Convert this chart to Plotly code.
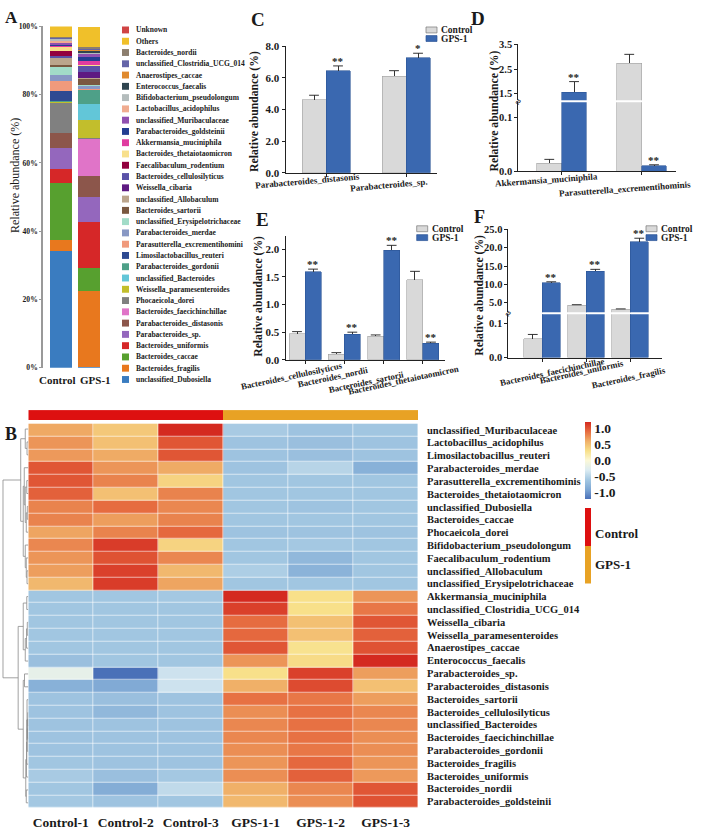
import plotly.graph_objects as go

W, H = 708, 834
def X(px): return px / W
def Y(py): return 1 - py / H
def dx(a, b): return [X(a), X(b)]
def dy(top, bottom): return [Y(bottom), Y(top)]

FONT = "Liberation Serif"
TXT = "#1a1a1a"

# ---------------- Panel A data (legend order, top -> bottom) ----------------
taxa_A = ["Unknown", "Others", "Bacteroides_nordii", "unclassified_Clostridia_UCG_014",
          "Anaerostipes_caccae", "Enterococcus_faecalis", "Bifidobacterium_pseudolongum",
          "Lactobacillus_acidophilus", "unclassified_Muribaculaceae", "Parabacteroides_goldsteinii",
          "Akkermansia_muciniphila", "Bacteroides_thetaiotaomicron", "Faecalibaculum_rodentium",
          "Bacteroides_cellulosilyticus", "Weissella_cibaria", "unclassified_Allobaculum",
          "Bacteroides_sartorii", "unclassified_Erysipelotrichaceae", "Parabacteroides_merdae",
          "Parasutterella_excrementihomini", "Limosilactobacillus_reuteri", "Parabacteroides_gordonii",
          "unclassified_Bacteroides", "Weissella_paramesenteroides", "Phocaeicola_dorei",
          "Bacteroides_faecichinchillae", "Parabacteroides_distasonis", "Parabacteroides_sp.",
          "Bacteroides_uniformis", "Bacteroides_caccae", "Bacteroides_fragilis", "unclassified_Dubosiella"]
groups_A = ["Control", "GPS-1"]
control_A = [0.0, 3.2, 0.3, 0.2, 0.1, 0.1, 0.6, 0.6, 0.5, 0.3, 0.1, 1.2, 1.6, 0.4, 0.05, 2.2,
             0.5, 2.5, 1.7, 2.9, 3.0, 0.2, 0.1, 0.05, 8.9, 0.1, 4.3, 6.3, 3.9, 16.9, 3.0, 34.3]
gps_A = [0.0, 6.0, 0.4, 0.4, 0.3, 0.5, 0.3, 0.1, 0.9, 1.2, 1.2, 0.1, 0.2, 1.6, 1.9, 0.2,
         1.9, 0.1, 1.0, 0.1, 0.2, 3.9, 4.8, 5.3, 0.2, 10.8, 6.4, 7.1, 13.6, 6.8, 22.1, 0.3]
colors_A = ["#d04444", "#f0c02a", "#8c7e6e", "#6464a8", "#e08a2e", "#2f4550", "#b4bcbc",
            "#f0ac90", "#9050b0", "#233e92", "#e03ca0", "#f8e08c", "#92003e", "#5a52a8",
            "#5e1a82", "#bba58c", "#7a5840", "#a2dcc8", "#8898c4", "#f09a7c", "#2e4a92",
            "#4ea088", "#62c6d8", "#c2be2c", "#808080", "#e074c8", "#8c564b", "#9467bd",
            "#d62728", "#57a02f", "#e8781e", "#3a7cc0"]
ticks_A = [0, 20, 40, 60, 80, 100]

# ---------------- Panels C-F data ----------------
taxa_C = ["Parabacteroides_distasonis", "Parabacteroides_sp."]
ctrl_C, ctrl_C_err = [4.6, 6.1], [0.3, 0.35]
gps_C, gps_C_err = [6.45, 7.25], [0.3, 0.3]
sig_C = ["**", "*"]

taxa_D = ["Akkermansia_muciniphila", "Parasutterella_excrementihominis"]
ctrl_D, ctrl_D_err = [0.015, 2.75], [0.007, 0.35]
gps_D, gps_D_err = [1.58, 0.01], [0.42, 0.002]
sig_D = ["**", "**"]
ticks_D_low, ticks_D_up = [0.0, 0.1], [1.5, 2.5, 3.5]

taxa_E = ["Bacteroides_cellulosilyticus", "Bacteroides_nordii", "Bacteroides_sartorii",
          "Bacteroides_thetaiotaomicron"]
ctrl_E, ctrl_E_err = [0.47, 0.10, 0.43, 1.45], [0.04, 0.03, 0.02, 0.15]
gps_E, gps_E_err = [1.59, 0.46, 1.98, 0.30], [0.05, 0.04, 0.09, 0.02]
sig_E = ["**", "**", "**", "**"]

taxa_F = ["Bacteroides_faecichinchillae", "Bacteroides_uniformis", "Bacteroides_fragilis"]
ctrl_F, ctrl_F_err = [0.055, 4.3, 3.2], [0.012, 0.15, 0.1]
gps_F, gps_F_err = [10.4, 13.6, 21.7], [0.3, 0.5, 0.9]
sig_F = ["**", "**", "**"]
ticks_F_low, ticks_F_up = [0.0, 0.1], [5.0, 10.0, 15.0, 20.0, 25.0]

# ---------------- Heatmap data ----------------
heat_cols = ["Control-1", "Control-2", "Control-3", "GPS-1-1", "GPS-1-2", "GPS-1-3"]
heat_groups = [0, 0, 0, 1, 1, 1]
heat_rows = ["unclassified_Muribaculaceae", "Lactobacillus_acidophilus", "Limosilactobacillus_reuteri",
             "Parabacteroides_merdae", "Parasutterella_excrementihominis", "Bacteroides_thetaiotaomicron",
             "unclassified_Dubosiella", "Bacteroides_caccae", "Phocaeicola_dorei",
             "Bifidobacterium_pseudolongum", "Faecalibaculum_rodentium", "unclassified_Allobaculum",
             "unclassified_Erysipelotrichaceae", "Akkermansia_muciniphila", "unclassified_Clostridia_UCG_014",
             "Weissella_cibaria", "Weissella_paramesenteroides", "Anaerostipes_caccae",
             "Enterococcus_faecalis", "Parabacteroides_sp.", "Parabacteroides_distasonis",
             "Bacteroides_sartorii", "Bacteroides_cellulosilyticus", "unclassified_Bacteroides",
             "Bacteroides_faecichinchillae", "Parabacteroides_gordonii", "Bacteroides_fragilis",
             "Bacteroides_uniformis", "Bacteroides_nordii", "Parabacteroides_goldsteinii"]
heat_z = [
    [0.63, 0.45, 1.20, -0.58, -0.65, -0.62],
    [0.72, 0.50, 1.00, -0.65, -0.68, -0.65],
    [0.70, 0.62, 1.00, -0.65, -0.68, -0.65],
    [1.00, 0.72, 0.62, -0.65, -0.50, -0.82],
    [1.00, 0.80, 0.38, -0.62, -0.62, -0.62],
    [0.95, 0.50, 0.80, -0.62, -0.62, -0.62],
    [0.80, 0.90, 0.78, -0.62, -0.65, -0.62],
    [0.80, 0.68, 0.80, -0.62, -0.62, -0.62],
    [0.65, 0.80, 0.92, -0.65, -0.65, -0.65],
    [0.78, 1.12, 0.38, -0.62, -0.60, -0.62],
    [0.72, 1.02, 0.78, -0.62, -0.75, -0.62],
    [0.68, 1.10, 0.55, -0.55, -0.80, -0.62],
    [0.55, 1.12, 0.65, -0.62, -0.62, -0.62],
    [-0.62, -0.62, -0.60, 1.20, 0.30, 0.72],
    [-0.62, -0.62, -0.62, 1.10, 0.30, 0.85],
    [-0.62, -0.62, -0.62, 0.90, 0.50, 1.00],
    [-0.62, -0.62, -0.62, 0.92, 0.50, 0.95],
    [-0.62, -0.62, -0.62, 1.00, 0.28, 1.02],
    [-0.68, -0.62, -0.62, 0.72, 0.33, 1.20],
    [-0.20, -1.20, -0.38, 0.30, 1.10, 0.68],
    [-0.82, -0.88, -0.38, 0.60, 1.05, 0.50],
    [-0.65, -0.68, -0.65, 0.88, 0.85, 0.68],
    [-0.65, -0.75, -0.65, 0.75, 0.88, 0.78],
    [-0.65, -0.65, -0.65, 0.78, 0.88, 0.78],
    [-0.65, -0.65, -0.65, 0.78, 0.88, 0.75],
    [-0.65, -0.65, -0.65, 0.75, 0.85, 0.75],
    [-0.62, -0.65, -0.65, 0.72, 0.92, 0.72],
    [-0.58, -0.68, -0.60, 0.75, 0.95, 0.70],
    [-0.62, -0.85, -0.45, 0.60, 0.78, 1.00],
    [-0.60, -0.65, -0.62, 0.55, 0.75, 1.02],
]
# dendrogram linkage: (child_a, child_b, height); ids >= 30 refer to earlier merges
dendro_links = [
    (1, 2, 0.05), (0, 30, 0.12), (4, 5, 0.06), (6, 7, 0.04), (33, 8, 0.08), (32, 34, 0.12),
    (3, 35, 0.16), (11, 12, 0.05), (10, 37, 0.08), (9, 38, 0.12), (36, 39, 0.20), (31, 40, 0.30),
    (13, 14, 0.06), (15, 16, 0.04), (43, 17, 0.07), (44, 18, 0.12), (42, 45, 0.20), (19, 20, 0.15),
    (22, 23, 0.02), (48, 24, 0.03), (49, 25, 0.04), (21, 50, 0.05), (51, 26, 0.06), (52, 27, 0.07),
    (28, 29, 0.08), (53, 54, 0.10), (47, 55, 0.20), (46, 56, 0.40), (41, 57, 1.00),
]

C_CTRL, C_GPS = "#d9d9d9", "#3a68b0"
HEAT_CS = [[0.0, "#4a70b8"], [0.125, "#7ea8d4"], [0.25, "#a4c8e2"], [0.375, "#dcecf2"],
           [0.5, "#fbf8d8"], [0.625, "#f8e08a"], [0.75, "#f0b068"], [0.875, "#e66c40"],
           [1.0, "#d42a20"]]
GROUP_CS = [[0, "#dd1010"], [1, "#e8a224"]]

fig = go.Figure()
shapes, annos = [], []

def bfont(size, bold=True, color=TXT):
    d = dict(family=FONT, size=size, color=color)
    if bold:
        d["weight"] = "bold"
    return d

def text(t, x, y, size, bold=True, angle=0, xanchor="center", yanchor="middle", **kw):
    annos.append(dict(text=t, x=X(x), y=Y(y), xref="paper", yref="paper", showarrow=False,
                      xanchor=xanchor, yanchor=yanchor, textangle=angle, font=bfont(size, bold), **kw))

# ---------------- Panel A ----------------
for name, c, g, col in reversed(list(zip(taxa_A, control_A, gps_A, colors_A))):
    fig.add_trace(go.Bar(x=groups_A, y=[c, g], name=name, marker=dict(color=col, line=dict(width=0)),
                         width=0.786, xaxis="x", yaxis="y", showlegend=False))
for k, (name, col) in enumerate(zip(taxa_A, colors_A)):
    yc = 24.3 + k * 11.44
    shapes.append(dict(type="rect", xref="paper", yref="paper", x0=X(122), x1=X(129),
                       y0=Y(yc + 3.5), y1=Y(yc - 3.5), fillcolor=col, line=dict(width=0)))
    text(name, 134, yc, 7.5, xanchor="left")
for g, sh in zip(groups_A, (-4, 6)):
    annos.append(dict(text=g, x=g, y=Y(379.5), xref="x", yref="paper", xshift=sh, showarrow=False,
                      xanchor="center", yanchor="middle", font=bfont(11)))

# ---------------- grouped bar helper ----------------
def grouped(ctrl, ctrl_err, gps, gps_err, xa, yas, bw):
    n = len(ctrl)
    xc = [i - bw / 2 for i in range(n)]
    xg = [i + bw / 2 for i in range(n)]
    for ya in yas:
        for xs, vals, errs, col, lc in ((xc, ctrl, ctrl_err, C_CTRL, "#a0a0a0"),
                                        (xg, gps, gps_err, C_GPS, "#2c5596")):
            fig.add_trace(go.Bar(x=xs, y=vals, width=bw, xaxis=xa, yaxis=ya, showlegend=False,
                                 marker=dict(color=col, line=dict(width=0.6, color=lc)),
                                 error_y=dict(type="data", array=errs, arrayminus=[0] * n,
                                              symmetric=False, width=0, thickness=1, color="#333")))
            fig.add_trace(go.Scatter(x=xs, y=[v + e for v, e in zip(vals, errs)], mode="markers",
                                     xaxis=xa, yaxis=ya, showlegend=False, cliponaxis=True,
                                     marker=dict(symbol="line-ew", size=7,
                                                 line=dict(width=1, color="#333"))))

def stars(sigs, gps, gps_err, xa, bw, ya_low, ya_up=None, low_max=None):
    for i, (s, v, e) in enumerate(zip(sigs, gps, gps_err)):
        top = v + e
        ya = ya_low if (ya_up is None or top <= low_max) else ya_up
        annos.append(dict(text=s, x=i + bw / 2, y=top, xref=xa, yref=ya, showarrow=False,
                          xanchor="center", yanchor="bottom", yshift=-3, font=bfont(11)))

def ytick_text(vals, ya, axis_px, size=10.5):
    for v in vals:
        annos.append(dict(text=f"{v:.1f}", x=X(axis_px - 4), y=v, xref="paper", yref=ya,
                          showarrow=False, xanchor="right", yanchor="middle", font=bfont(size)))

D_AX, F_AX = 518.3, 508.0
BW_C, BW_D, BW_E, BW_F = 0.30, 0.31, 0.407, 0.42
grouped(ctrl_C, ctrl_C_err, gps_C, gps_C_err, "x2", ["y2"], BW_C)
stars(sig_C, gps_C, gps_C_err, "x2", BW_C, "y2")
D_LOW, F_LOW = 0.1273, 0.1257
grouped(ctrl_D, ctrl_D_err, gps_D, gps_D_err, "x3", ["y3", "y4"], BW_D)
stars(sig_D, gps_D, gps_D_err, "x3", BW_D, "y3", "y4", D_LOW)
ytick_text(ticks_D_low, "y3", D_AX)
ytick_text(ticks_D_up, "y4", D_AX)
grouped(ctrl_E, ctrl_E_err, gps_E, gps_E_err, "x5", ["y5"], BW_E)
stars(sig_E, gps_E, gps_E_err, "x5", BW_E, "y5")
grouped(ctrl_F, ctrl_F_err, gps_F, gps_F_err, "x6", ["y6", "y7"], BW_F)
stars(sig_F, gps_F, gps_F_err, "x6", BW_F, "y6", "y7", F_LOW)
ytick_text(ticks_F_low, "y6", F_AX)
ytick_text(ticks_F_up, "y7", F_AX)

# category labels (slanted) for C-F
def cat_labels(taxa, xa, ys, shifts, angle, size):
    for i, (t, yy, sh) in enumerate(zip(taxa, ys, shifts)):
        annos.append(dict(text=t, x=i, y=Y(yy), xref=xa, yref="paper", showarrow=False,
                          xanchor="center", yanchor="middle", xshift=sh, textangle=angle,
                          font=bfont(size)))
cat_labels(taxa_C, "x2", [177.7, 181.5], [-19, -17], -5, 9)
cat_labels(taxa_D, "x3", [176.7, 186], [-15, -17], -4, 9)
cat_labels(taxa_E, "x5", [375.5, 376, 381, 379], [-13, -11, -17, -19], -12, 8.8)
cat_labels(taxa_F, "x6", [371, 371, 377], [10, -5, -2], -12, 8.8)

# legends for bar panels
def bar_legend(x0, y1, y2):
    for yc, lab, col, lc in ((y1, "Control", C_CTRL, "#777"), (y2, "GPS-1", C_GPS, "#2c5596")):
        shapes.append(dict(type="rect", xref="paper", yref="paper", x0=X(x0), x1=X(x0 + 11),
                           y0=Y(yc + 3), y1=Y(yc - 3), fillcolor=col, line=dict(width=0.7, color=lc)))
        text(lab, x0 + 13, yc, 9.5, xanchor="left")
bar_legend(426, 24.3, 33)
bar_legend(416.7, 226, 235)
bar_legend(646, 226, 235)

# y titles and panel letters
for (xx, yy) in ((255, 107.5), (494, 106), (259, 295), (480, 294)):
    text("Relative abundance (%)", xx, yy, 11.7, angle=-90)
text("Relative abundance (%)", 15, 172.5, 12, bold=False, angle=-90)
for lab, xx, yy, sz in (("A", 11, 12, 17), ("B", 11, 434, 18), ("C", 258, 13.3, 19),
                        ("D", 478, 12.5, 19), ("E", 262.5, 216.7, 19), ("F", 479, 214, 18)):
    text(lab, xx, yy, sz)
# axis break marks
for (xx, yy) in ((D_AX, 96.7), (F_AX, 311.7)):
    text("≈", xx, yy, 10, angle=-60)

# ---------------- Heatmap B ----------------
fig.add_trace(go.Heatmap(z=heat_z, x=heat_cols, y=heat_rows, colorscale=HEAT_CS, zmin=-1.2, zmax=1.2,
                         xgap=0.6, ygap=0.6, xaxis="x8", yaxis="y8",
                         colorbar=dict(x=X(585), xanchor="left", y=Y(461), yanchor="middle",
                                       len=76.6, lenmode="pixels", thickness=6, thicknessmode="pixels",
                                       outlinewidth=0, xpad=0, ypad=0, ticks="",
                                       tickvals=[-1, -0.5, 0, 0.5, 1],
                                       ticktext=["-1.0", "-0.5", "0.0", "0.5", "1.0"],
                                       tickfont=bfont(13.5))))
for r in heat_rows:
    annos.append(dict(text=r, x=X(425), y=r, xref="paper", yref="y8", showarrow=False,
                      xanchor="left", yanchor="middle", font=bfont(10.5)))
fig.add_trace(go.Heatmap(z=[heat_groups], x=heat_cols, y=["group"], colorscale=GROUP_CS,
                         zmin=0, zmax=1, showscale=False, xaxis="x9", yaxis="y9"))
fig.add_trace(go.Heatmap(z=[[0], [1]], x=["g"], y=["Control", "GPS-1"], colorscale=GROUP_CS,
                         zmin=0, zmax=1, showscale=False, xaxis="x11", yaxis="y11"))
text("Control", 593, 535, 13, xanchor="left")
text("GPS-1", 593, 566.7, 13, xanchor="left")

# dendrogram from linkage
pos = {i: float(i) for i in range(len(heat_rows))}
hgt = {i: 0.0 for i in range(len(heat_rows))}
dxs, dys = [], []
for k, (a, b, h) in enumerate(dendro_links):
    nid = len(heat_rows) + k
    dxs += [hgt[a], h, h, hgt[b], None]
    dys += [pos[a], pos[a], pos[b], pos[b], None]
    pos[nid] = (pos[a] + pos[b]) / 2
    hgt[nid] = h
fig.add_trace(go.Scatter(x=dxs, y=dys, mode="lines", line=dict(color="#8a8a8a", width=0.8),
                         xaxis="x10", yaxis="y10", showlegend=False, hoverinfo="skip"))

# ---------------- Layout ----------------
tf = bfont(11)
ax = dict(showline=True, linecolor="#222", linewidth=1.3, ticks="outside", ticklen=3, tickwidth=1.2,
          tickcolor="#222", showgrid=False, zeroline=False, tickfont=tf)
xax = dict(ax, showticklabels=False)
hide = dict(visible=False, showgrid=False, zeroline=False)

layout = dict(
    width=W, height=H, margin=dict(l=0, r=0, t=0, b=0), paper_bgcolor="white",
    plot_bgcolor="rgba(0,0,0,0)", barmode="stack", showlegend=False,
    # A
    xaxis=dict(domain=dx(43, 107), range=[-0.643, 1.643], showline=False, ticks="", showgrid=False,
               showticklabels=False, anchor="y"),
    yaxis=dict(domain=dy(20.7, 367), range=[0, 100], tickmode="array", tickvals=ticks_A,
               ticktext=[f"{t}%" for t in ticks_A], showline=True, linecolor="#999", linewidth=1.5,
               ticks="outside", ticklen=2, tickcolor="#999", showgrid=False, zeroline=False,
               tickfont=bfont(7.6), anchor="x"),
    # C
    xaxis2=dict(xax, domain=dx(285.7, 437), range=[-0.504, 1.387], tickvals=[0, 1], anchor="y2"),
    yaxis2=dict(ax, domain=dy(40.7, 169.3), range=[0, 8], dtick=2, tickformat=".1f", anchor="x2"),
    # D
    xaxis3=dict(xax, domain=dx(D_AX, 676), range=[-0.5425, 1.43], tickvals=[0, 1], anchor="y3"),
    yaxis3=dict(ax, domain=dy(97.7, 167.7), range=[0, D_LOW], tickvals=ticks_D_low,
                showticklabels=False, anchor="x3"),
    yaxis4=dict(ax, domain=dy(39, 95.7), range=[1.245, 3.5], tickvals=ticks_D_up,
                showticklabels=False, anchor="x3"),
    # E
    xaxis5=dict(xax, domain=dx(285.7, 445), range=[-0.491, 3.56], tickvals=[0, 1, 2, 3], anchor="y5"),
    yaxis5=dict(ax, domain=dy(233.3, 359), range=[0, 2.24], dtick=0.5, tickformat=".1f", anchor="x5"),
    # F
    xaxis6=dict(xax, domain=dx(F_AX, 662), range=[-0.773, 2.727], tickvals=[0, 1, 2], anchor="y6"),
    yaxis6=dict(ax, domain=dy(312.7, 356.7), range=[0, F_LOW], tickvals=ticks_F_low,
                showticklabels=False, anchor="x6"),
    yaxis7=dict(ax, domain=dy(226.7, 310.7), range=[2.39, 25], tickvals=ticks_F_up,
                showticklabels=False, anchor="x6"),
    # heatmap
    xaxis8=dict(domain=dx(28.3, 418), showgrid=False, zeroline=False, showline=False, ticks="",
                tickfont=bfont(13.5), tickangle=0, ticklabelstandoff=3, anchor="y8"),
    yaxis8=dict(domain=dy(422.7, 815), autorange="reversed", showgrid=False,
                zeroline=False, showline=False, ticks="", showticklabels=False, anchor="x8"),
    xaxis9=dict(hide, domain=dx(28.3, 418), anchor="y9"),
    yaxis9=dict(hide, domain=dy(410, 420), anchor="x9"),
    xaxis10=dict(hide, domain=dx(0, 28.3), range=[1.118, 0], anchor="y10"),
    yaxis10=dict(hide, domain=dy(422.7, 815), range=[29.5, -0.5], anchor="x10"),
    xaxis11=dict(hide, domain=dx(585, 591), anchor="y11"),
    yaxis11=dict(hide, domain=dy(509.3, 586), autorange="reversed", anchor="x11"),
    shapes=shapes, annotations=annos,
)
fig.update_layout(**layout)
fig.write_html("out.html")
